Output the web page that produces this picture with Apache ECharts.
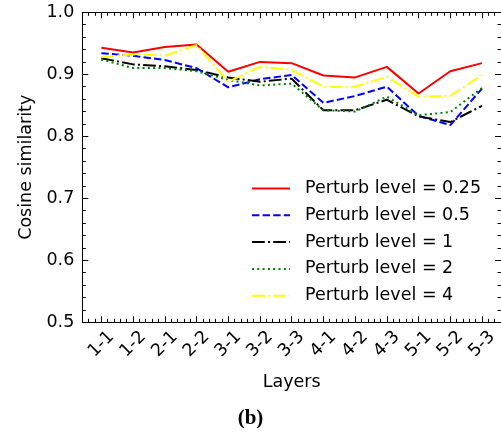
<!DOCTYPE html>
<html>
<head>
<meta charset="utf-8">
<script src="https://cdn.jsdelivr.net/npm/echarts@6/dist/echarts.min.js"></script>
<style>html,body{margin:0;padding:0;background:#fff}#c{width:501px;height:434px}</style>
</head>
<body>
<div id="c"></div>
<script>
var layers = ['1-1','1-2','2-1','2-2','3-1','3-2','3-3','4-1','4-2','4-3','5-1','5-2','5-3'];
var p025 = [0.943,0.935,0.944,0.948,0.904,0.920,0.918,0.898,0.895,0.912,0.869,0.905,0.918];
var p05  = [0.934,0.930,0.923,0.910,0.879,0.892,0.899,0.854,0.865,0.880,0.833,0.818,0.877];
var p1   = [0.926,0.916,0.913,0.907,0.895,0.888,0.893,0.842,0.842,0.859,0.832,0.823,0.849];
var p2   = [0.924,0.910,0.910,0.905,0.891,0.882,0.885,0.842,0.840,0.864,0.834,0.839,0.878];
var p4   = [0.928,0.932,0.930,0.947,0.888,0.912,0.907,0.880,0.880,0.896,0.864,0.865,0.899];
var yTicks = [0.5,0.6,0.7,0.8,0.9,1.0];

var F = 'DejaVu Sans';
var majorX = layers.map(function(_, i){ return i; });
var minorX = [];
for (var k = -2; k <= 62; k++) { if (k % 5 !== 0) minorX.push(Math.round(k / 5 * 1000) / 1000); }
minorX = minorX.filter(function(v){ return v > -0.6 && v < 12.6; });

function pairs(arr){ return arr.map(function(v, i){ return [i, v]; }); }

function xAx(pos, major, labels, name){
  return {
    type: 'value', position: pos, min: -0.6, max: 12.6,
    axisLine: { show: major, onZero: false, lineStyle: { color: '#000', width: 1 } },
    axisTick: { show: true, inside: true, length: major ? 6 : 3.5, customValues: major ? majorX : minorX,
      lineStyle: { color: '#000', width: 1 } },
    axisLabel: labels ? {
      show: true, customValues: majorX, rotate: 45, align: 'center', verticalAlign: 'middle', margin: 22,
      fontFamily: F, fontSize: 17.5, color: '#000',
      formatter: function(v){ var i = Math.round(v); return layers[i] || ''; }
    } : { show: false },
    splitLine: { show: false },
    name: name || '', nameLocation: 'middle', nameGap: 51,
    nameTextStyle: { fontFamily: F, fontSize: 17.5, color: '#000' }
  };
}
function yAx(pos, labels, name){
  return {
    type: 'value', position: pos, min: 0.5, max: 1.0, interval: 0.1,
    axisLine: { show: true, onZero: false, lineStyle: { color: '#000', width: 1 } },
    axisTick: { show: true, inside: true, length: 6, lineStyle: { color: '#000', width: 1 } },
    minorTick: { show: true, splitNumber: 5, length: 3.5, lineStyle: { color: '#000', width: 1 } },
    axisLabel: labels ? { show: true, margin: 8, fontFamily: F, fontSize: 17.5, color: '#000',
      formatter: function(v){ return v.toFixed(1); } } : { show: false },
    splitLine: { show: false },
    name: name || '', nameLocation: 'middle', nameGap: 46,
    nameTextStyle: { fontFamily: F, fontSize: 17.5, color: '#000' }
  };
}

var styles = [
  { name: 'Perturb level = 0.25', data: p025, color: '#ff0000', type: 'solid' },
  { name: 'Perturb level = 0.5',  data: p05,  color: '#0000ff', type: [7.4, 3.2] },
  { name: 'Perturb level = 1',    data: p1,   color: '#000000', type: [12.8, 3.2, 2, 3.2] },
  { name: 'Perturb level = 2',    data: p2,   color: '#008000', type: [2, 3.3] },
  { name: 'Perturb level = 4',    data: p4,   color: '#ffff00', type: [12.8, 3.2, 2, 3.2] }
];

var chart = echarts.init(document.getElementById('c'), null, { renderer: 'canvas' });
chart.setOption({
  animation: false,
  backgroundColor: '#fff',
  grid: { left: 82.3, top: 12.3, width: 422.4, height: 310, containLabel: false },
  xAxis: [ xAx('bottom', true, true, 'Layers'), xAx('top', true, false), xAx('bottom', false, false), xAx('top', false, false) ],
  yAxis: [ yAx('left', true, 'Cosine similarity'), yAx('right', false) ],
  legend: {
    orient: 'vertical', left: 251, top: 179.5, padding: 0, itemWidth: 38, itemHeight: 14, itemGap: 8.8,
    itemStyle: { opacity: 0 },
    lineStyle: { width: 2 },
    textStyle: { fontFamily: F, fontSize: 17.5, color: '#000', lineHeight: 18, padding: [0, 0, 0, 10] },
    data: styles.map(function(s){ return s.name; })
  },
  graphic: [{
    type: 'text', left: 'center', top: 408,
    style: { text: '(b)', font: 'bold 21px "Liberation Serif", serif', fill: '#000' }
  }],
  series: styles.map(function(s){
    return {
      type: 'line', name: s.name, data: pairs(s.data), xAxisIndex: 0, yAxisIndex: 0,
      symbol: 'none', color: s.color,
      lineStyle: { color: s.color, width: 2, type: s.type }
    };
  })
});
</script>
</body>
</html>
